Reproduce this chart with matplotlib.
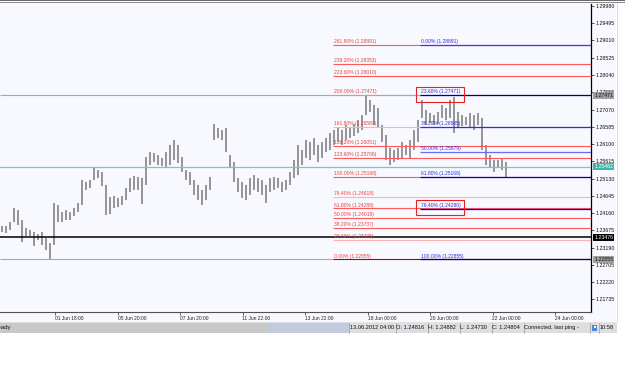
import matplotlib.pyplot as plt
from matplotlib.patches import Rectangle
from matplotlib.transforms import blended_transform_factory

plt.rcParams['font.family'] = ['Liberation Sans', 'DejaVu Sans']

# EURUSD, one bar for roughly every 3 hours
bar_high = [1.23795, 1.23795, 1.23907, 1.24301, 1.24245, 1.23964, 1.23739, 1.23683, 1.23626, 1.23570,
            1.23626, 1.23458, 1.23317, 1.24441, 1.24385, 1.24189, 1.24245, 1.24189, 1.24301, 1.24441,
            1.25088, 1.25032, 1.25088, 1.25425, 1.25369, 1.25313, 1.24947, 1.24610, 1.24638, 1.24582,
            1.24638, 1.24863, 1.25144, 1.25200, 1.25172, 1.25144, 1.25735, 1.25875, 1.25847, 1.25791,
            1.25706, 1.25875, 1.26072, 1.26212, 1.26072, 1.25735, 1.25369, 1.25313, 1.25088, 1.24947,
            1.24807, 1.24947, 1.25172, 1.26662, 1.26550, 1.26494, 1.26550, 1.25791, 1.25594, 1.25144,
            1.25032, 1.24947, 1.25144, 1.25229, 1.25144, 1.25088, 1.24947, 1.25144, 1.25172, 1.25144,
            1.25032, 1.25088, 1.25313, 1.25650, 1.26072, 1.25931, 1.26212, 1.26156, 1.26269, 1.26072,
            1.26156, 1.26269, 1.26409, 1.26494, 1.26550, 1.26494, 1.26634, 1.26550, 1.26662, 1.26775,
            1.26915, 1.27477, 1.27337, 1.27196, 1.27112, 1.26634, 1.26353, 1.25988, 1.25931, 1.25988,
            1.26156, 1.26072, 1.26212, 1.26494, 1.26775, 1.27337, 1.27056, 1.26971, 1.26915, 1.26999,
            1.27196, 1.27112, 1.27337, 1.27421, 1.26999, 1.26915, 1.26859, 1.26971, 1.26915, 1.26971,
            1.26831, 1.26072, 1.25791, 1.25650, 1.25650, 1.25706, 1.25594]
bar_low = [1.23626, 1.23598, 1.23683, 1.23907, 1.23823, 1.23345, 1.23514, 1.23514, 1.23233, 1.23402,
           1.23261, 1.23120, 1.22855, 1.23261, 1.23907, 1.23907, 1.23964, 1.23964, 1.24076, 1.24189,
           1.24385, 1.24807, 1.24863, 1.25088, 1.25144, 1.24919, 1.24104, 1.24132, 1.24301, 1.24329,
           1.24385, 1.24526, 1.24751, 1.24807, 1.24807, 1.24413, 1.24947, 1.25510, 1.25594, 1.25510,
           1.25482, 1.25425, 1.25510, 1.25650, 1.25566, 1.25313, 1.25088, 1.24947, 1.24666, 1.24526,
           1.24385, 1.24526, 1.24807, 1.26212, 1.26269, 1.26212, 1.25875, 1.25453, 1.25032, 1.24751,
           1.24582, 1.24526, 1.24666, 1.24807, 1.24751, 1.24666, 1.24441, 1.24751, 1.24807, 1.24863,
           1.24751, 1.24807, 1.24947, 1.25144, 1.25229, 1.25510, 1.25706, 1.25650, 1.25791, 1.25594,
           1.25706, 1.25875, 1.25931, 1.26072, 1.26156, 1.26072, 1.26212, 1.26269, 1.26325, 1.26409,
           1.26494, 1.26915, 1.26999, 1.26634, 1.26550, 1.26156, 1.25650, 1.25510, 1.25594, 1.25650,
           1.25706, 1.25791, 1.25706, 1.25931, 1.26156, 1.26831, 1.26634, 1.26690, 1.26634, 1.26662,
           1.26831, 1.26775, 1.26831, 1.26409, 1.26550, 1.26606, 1.26634, 1.26550, 1.26494, 1.26634,
           1.25931, 1.25510, 1.25425, 1.25313, 1.25425, 1.25369, 1.25172]

price_ticks = [1.29980, 1.29495, 1.29010, 1.28525, 1.28040, 1.27555, 1.27070, 1.26585, 1.26100,
               1.25615, 1.25130, 1.24645, 1.24160, 1.23675, 1.23190, 1.22705, 1.22220, 1.21735]
time_labels = ['01 Jun 18:00', '05 Jun 20:00', '07 Jun 20:00', '11 Jun 22:00', '13 Jun 22:00',
               '18 Jun 00:00', '20 Jun 00:00', '22 Jun 00:00', '24 Jun 00:00']

# fibo expansion (red) and retracement (blue)
exp_pct = [0.0, 23.6, 38.2, 50.0, 61.8, 76.4, 100.0, 123.6, 138.2, 161.8, 200.0, 223.6, 238.2, 261.8]
exp_price = [1.22855, 1.23405, 1.23737, 1.24018, 1.24288, 1.24618, 1.25168, 1.25708, 1.26051,
             1.26583, 1.27471, 1.28010, 1.28353, 1.28891]
ret_pct = [0.0, 23.6, 38.2, 50.0, 61.8, 76.4, 100.0]
ret_price = [1.28891, 1.27471, 1.26585, 1.25879, 1.25169, 1.24280, 1.22855]

bid = 1.25462
black_level = 1.23476
swing_high = 1.27471
swing_low = 1.22855

exp_colors = ['#b00000', '#ffb0b0', '#ff5a5a', '#ff5a5a', '#ff5a5a', '#ffb0b0', '#ff5a5a',
              '#ff5a5a', '#ff5a5a', '#ffb0b0', '#a8a8a8', '#ff5a5a', '#ff5a5a', '#ff5a5a']
ret_colors = ['#3a3aff', '#000080', '#2a2aff', '#6a6aff', '#0000c8', '#0000ff', '#000080']

W, H = 625, 391
fig = plt.figure(figsize=(W / 100, H / 100), dpi=100)
fig.patch.set_facecolor('white')


def frac(x0, y0, x1, y1):
    return [x0 / W, 1 - y1 / H, (x1 - x0) / W, (y1 - y0) / H]


# window decoration drawn in pixel units
bg = fig.add_axes([0, 0, 1, 1], zorder=-1)
bg.set_xlim(0, W)
bg.set_ylim(H, 0)
bg.axis('off')
bg.add_patch(Rectangle((0, 0), W, 1.2, color='#6a6a6a', lw=0))
bg.add_patch(Rectangle((0, 2.2), W, 1.0, color='#8c8c8c', lw=0))
bg.add_patch(Rectangle((0, 3.2), 616, 319, color='#f8f8ff', lw=0))
bg.plot([616.5, 616.5], [3, 322], color='#d4d4d8', lw=0.6)
bg.text(-3.5, 8.5, 'EURUSD, H1', fontsize=3.8, va='center', ha='left', color='#222222')

# status bar
bg.add_patch(Rectangle((0, 322), 267, 11, color='#c8c8c8', lw=0))
bg.add_patch(Rectangle((267, 322), 82, 11, color='#c2cadf', lw=0))
bg.add_patch(Rectangle((349, 322), 268, 11, color='#dedee0', lw=0))
bg.plot([0, 617], [322.3, 322.3], color='#e8e8e8', lw=0.5)
for sx in [349, 395.5, 427.5, 459.5, 491.5, 523.5, 589.5, 598.5]:
    bg.plot([sx, sx], [322.5, 332.5], color='#9a9a9a', lw=0.5)
bg.text(-7, 327.6, 'Ready', fontsize=4.4, va='center', color='#111111')
status = [(350.5, '13.06.2012 04:00'), (396.3, 'O: 1.24816'), (428.3, 'H: 1.24882'),
          (460.3, 'L: 1.24730'), (492.3, 'C: 1.24804'), (524.5, 'Connected, last ping -'),
          (600, '10:58')]
for i, (sx, st) in enumerate(status):
    t = bg.text(sx, 327.6, st, fontsize=4.1, va='center', color='#111111')
    if i == 0:
        t.set_clip_path(Rectangle((349, 322), 46, 11, transform=bg.transData))
bg.add_patch(Rectangle((592, 324.5), 5, 6, color='#4f86d8', lw=0))
bg.add_patch(Rectangle((593.5, 325.5), 2, 2, color='#ffffff', lw=0))

# chart
ax = fig.add_axes(frac(0, 4, 591, 312))
ax.set_facecolor('#f8f8ff')
n = len(bar_high)
x_right = 147.25
exp_x0 = 82.75
ret_x0 = 104.5
ax.set_xlim(-0.5, x_right)
y_lo, y_hi = 1.21377, 1.30036
ax.set_ylim(y_lo, y_hi)
pxp = (y_hi - y_lo) / 308.0

ax.vlines(range(n), bar_low, bar_high, color='#7a7a7a', lw=1.1, zorder=1.5)

ax.hlines(swing_high, -0.5, ret_x0, color='#a8a8a8', lw=0.8, zorder=2)
ax.hlines(swing_low, -0.5, exp_x0, color='#a8a8a8', lw=0.8, zorder=2)

for pct, pr, c in zip(exp_pct, exp_price, exp_colors):
    ax.hlines(pr, exp_x0, x_right, color=c, lw=0.8, zorder=2.2)
    ax.text(exp_x0 + 0.2, pr + 1.8 * pxp, '%.2f%% (%.5f)' % (pct, pr), fontsize=3.6,
            color='#e8453c', va='baseline', ha='left', zorder=4)
for pct, pr, c in zip(ret_pct, ret_price, ret_colors):
    ax.hlines(pr, ret_x0, x_right, color=c, lw=0.9, zorder=2.4)
    ax.text(ret_x0 + 0.2, pr + 1.8 * pxp, '%.2f%% (%.5f)' % (pct, pr), fontsize=3.6,
            color='#3030e0', va='baseline', ha='left', zorder=4)

ax.axhline(bid, color='#62d2c6', lw=0.9, zorder=2.6)
ax.axhline(black_level, color='black', lw=1.1, zorder=2.6)

# red highlight boxes around two retracement labels
for lvl in [ret_price[1], ret_price[5]]:
    ax.add_patch(Rectangle((103.4, lvl - 6.5 * pxp), 12.1, 15 * pxp, fill=False,
                           ec='#e82020', lw=0.8, zorder=4))

for side in ['left', 'top']:
    ax.spines[side].set_visible(False)
ax.spines['right'].set_color('black')
ax.spines['right'].set_linewidth(0.9)
ax.spines['bottom'].set_color('#505050')
ax.spines['bottom'].set_linewidth(0.8)

ax.yaxis.tick_right()
ax.set_yticks(price_ticks)
ax.set_yticklabels(['%.5f' % p for p in price_ticks])
ax.tick_params(axis='y', length=2.2, width=0.5, pad=0.8, labelsize=3.8, colors='#111111')

first_tick, tick_step = 13.25, 15.625
ax.set_xticks([first_tick + tick_step * i for i in range(len(time_labels))])
ax.set_xticklabels(time_labels)
ax.tick_params(axis='x', length=2.2, width=0.5, pad=0.6, labelsize=3.5, colors='#222222')
for lab in ax.get_xticklabels():
    lab.set_ha('left')

tr = blended_transform_factory(ax.transAxes, ax.transData)
tags = [(swing_high, '#a0a0a0', '#111111'), (bid, '#3fb5a9', 'white'),
        (black_level, 'black', 'white'), (swing_low, '#a0a0a0', '#111111')]
for pr, fc, tc in tags:
    ax.text(1.0055, pr, '%.5f' % pr, transform=tr, fontsize=3.8, color=tc, va='center',
            ha='left', clip_on=False, zorder=5,
            bbox=dict(boxstyle='square,pad=0.15', fc=fc, ec='none'))

fig.savefig('out.png', dpi=100)
